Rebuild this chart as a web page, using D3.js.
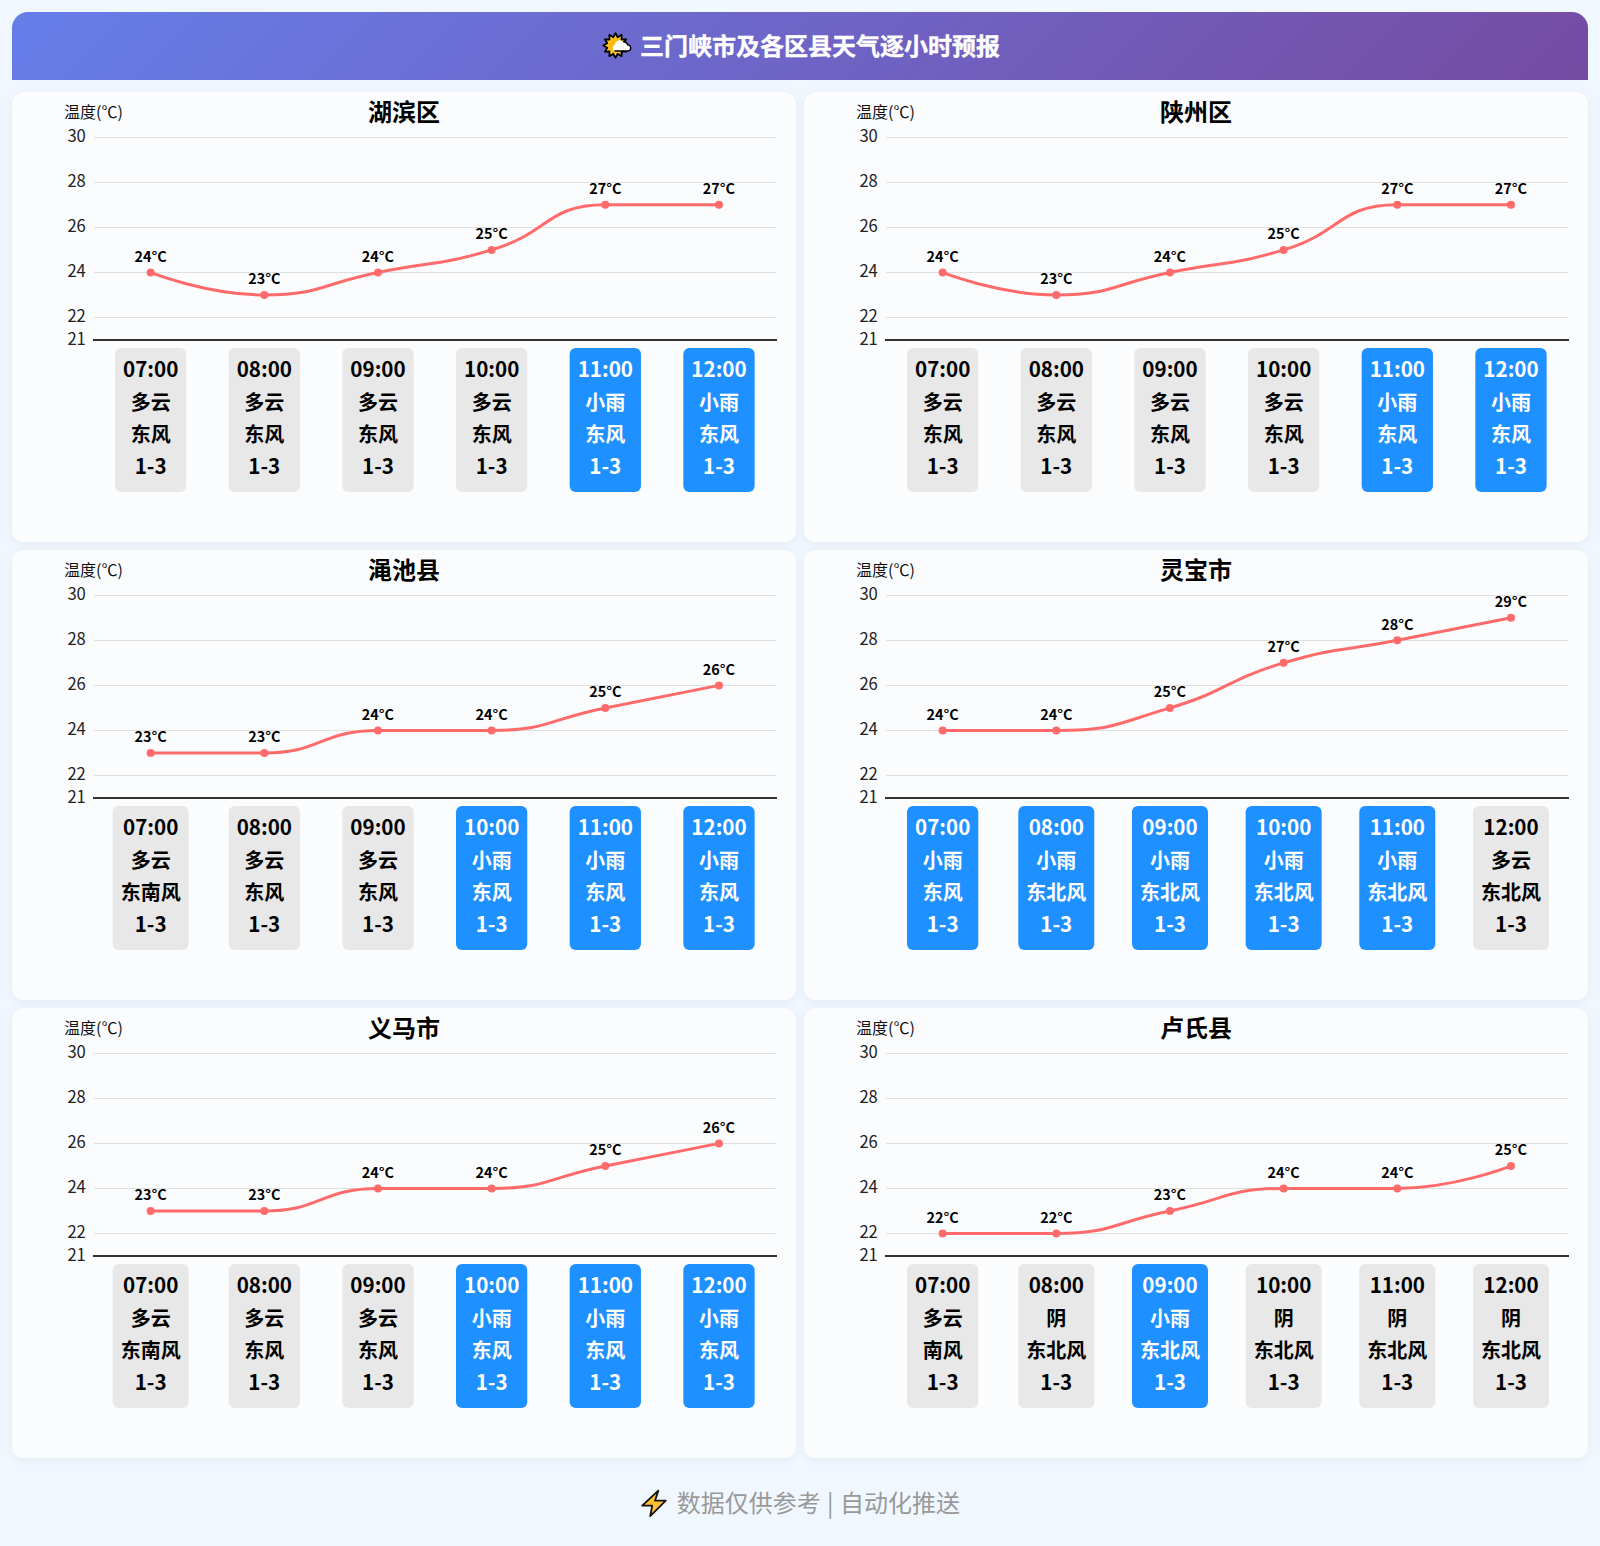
<!DOCTYPE html>
<html lang="zh">
<head>
<meta charset="utf-8">
<script src="https://cdn.jsdelivr.net/npm/d3@7"></script>
<style>
html,body{margin:0;padding:0;background:#f0f7ff;}
svg{display:block;}
text{font-family:"Noto Sans CJK SC","Noto Sans",sans-serif;}
</style>
</head>
<body>
<div id="chart"></div>
<script>
const pageTitle = "三门峡市及各区县天气逐小时预报";
const footerText = "数据仅供参考 | 自动化推送";
const axisName = "温度(℃)";
const hours = ["07:00","08:00","09:00","10:00","11:00","12:00"];
const yTicks = [21,22,24,26,28,30];
const districts = ["湖滨区","陕州区","渑池县","灵宝市","义马市","卢氏县"];
const tempHubin = [24,23,24,25,27,27];
const tempShanzhou = [24,23,24,25,27,27];
const tempMianchi = [23,23,24,24,25,26];
const tempLingbao = [24,24,25,27,28,29];
const tempYima = [23,23,24,24,25,26];
const tempLushi = [22,22,23,24,24,25];
const weatherHubin = ["多云","多云","多云","多云","小雨","小雨"];
const weatherShanzhou = ["多云","多云","多云","多云","小雨","小雨"];
const weatherMianchi = ["多云","多云","多云","小雨","小雨","小雨"];
const weatherLingbao = ["小雨","小雨","小雨","小雨","小雨","多云"];
const weatherYima = ["多云","多云","多云","小雨","小雨","小雨"];
const weatherLushi = ["多云","阴","小雨","阴","阴","阴"];
const windHubin = ["东风","东风","东风","东风","东风","东风"];
const windShanzhou = ["东风","东风","东风","东风","东风","东风"];
const windMianchi = ["东南风","东风","东风","东风","东风","东风"];
const windLingbao = ["东风","东北风","东北风","东北风","东北风","东北风"];
const windYima = ["东南风","东风","东风","东风","东风","东风"];
const windLushi = ["南风","东北风","东北风","东北风","东北风","东北风"];
const windLevel = "1-3";
const temps = [tempHubin,tempShanzhou,tempMianchi,tempLingbao,tempYima,tempLushi];
const weathers = [weatherHubin,weatherShanzhou,weatherMianchi,weatherLingbao,weatherYima,weatherLushi];
const winds = [windHubin,windShanzhou,windMianchi,windLingbao,windYima,windLushi];

// d3 curve factory: Catmull-style tangents, clamped to each neighbour's extent
function curveClampedSmooth(context){
  const smooth = 0.5;
  let pts;
  return {
    lineStart(){ pts = []; },
    point(x,y){ pts.push([+x,+y]); },
    lineEnd(){
      const n = pts.length;
      if(!n) return;
      context.moveTo(pts[0][0],pts[0][1]);
      const clamp = (v,a,b)=>Math.max(Math.min(a,b),Math.min(Math.max(a,b),v));
      let cp0 = pts[0];
      for(let i=1;i<n;i++){
        const p = pts[i];
        if(i===n-1){ context.bezierCurveTo(cp0[0],cp0[1],p[0],p[1],p[0],p[1]); break; }
        const a = pts[i-1], b = pts[i+1];
        const lp = Math.hypot(p[0]-a[0],p[1]-a[1]), ln = Math.hypot(b[0]-p[0],b[1]-p[1]);
        const r = ln/(ln+lp);
        let nx = clamp(p[0]+(b[0]-a[0])*smooth*r,p[0],b[0]);
        let ny = clamp(p[1]+(b[1]-a[1])*smooth*r,p[1],b[1]);
        let c1x = clamp(p[0]-(nx-p[0])*lp/ln,a[0],p[0]);
        let c1y = clamp(p[1]-(ny-p[1])*lp/ln,a[1],p[1]);
        nx = p[0]+(p[0]-c1x)*ln/lp;
        ny = p[1]+(p[1]-c1y)*ln/lp;
        context.bezierCurveTo(cp0[0],cp0[1],c1x,c1y,p[0],p[1]);
        cp0 = [nx,ny];
      }
    }
  };
}

const W = 1600, H = 1546;
const svg = d3.select("#chart").append("svg").attr("width",W).attr("height",H);
const defs = svg.append("defs");
const grad = defs.append("linearGradient").attr("id","hdr").attr("gradientUnits","userSpaceOnUse")
  .attr("x1",389).attr("y1",-365).attr("x2",1211).attr("y2",457);
grad.append("stop").attr("offset",0).attr("stop-color","#667eea");
grad.append("stop").attr("offset",1).attr("stop-color","#764ba2");
const sh = defs.append("filter").attr("id","sh").attr("x","-5%").attr("y","-5%").attr("width","110%").attr("height","110%");
sh.append("feDropShadow").attr("dx",0).attr("dy",2).attr("stdDeviation",4).attr("flood-color","#000").attr("flood-opacity",0.05);
const sunG = defs.append("radialGradient").attr("id","sun");
sunG.append("stop").attr("offset",0.35).attr("stop-color","#ffb300");
sunG.append("stop").attr("offset",1).attr("stop-color","#ffe04a");

svg.append("rect").attr("width",W).attr("height",H).attr("fill","#f0f7ff");
// header
svg.append("path").attr("d","M12,80V28A16,16 0 0 1 28,12H1572A16,16 0 0 1 1588,28V80Z").attr("fill","url(#hdr)");
svg.append("text").attr("x",640).attr("y",46.6).attr("dy","0.35em").attr("fill","#fff").attr("stroke","#fff").attr("stroke-width",0.35)
  .attr("font-size",24).attr("font-weight",700).text(pageTitle);
// sun-behind-cloud icon
const icon = svg.append("g").attr("transform","translate(615.5,45.5)");
icon.append("path").attr("d",d3.range(24).map(i=>{
    const r = i%2 ? 8.5 : 12.3, a = i*Math.PI/12;
    return (i?"L":"M")+(r*Math.cos(a)).toFixed(2)+","+(r*Math.sin(a)).toFixed(2);
  }).join("")+"Z").attr("fill","url(#sun)").attr("stroke","#000").attr("stroke-width",1.8).attr("stroke-linejoin","round");
icon.append("path").attr("d","M-1,5.5a3.4,3.4 0 0 1 0,-6.2a5,5 0 0 1 8.5,-3a4.2,4.2 0 0 1 4.6,3a3.2,3.2 0 0 1 1,6.2Z")
  .attr("fill","#fff");
icon.append("path").attr("d","M7.5,-3.7a4.2,4.2 0 0 1 4.6,3a3.2,3.2 0 0 1 1,6.2H-1").attr("fill","none").attr("stroke","#000").attr("stroke-width",1.3);

const cardW = 784, cardH = 450, cols = [12,804], rows = [92,550,1008];
const plotL = 81.8, plotW = 682, plotT = 45.3, plotH = 202.7;

districts.forEach((name,i)=>{
  const cx = cols[i%2], cy = rows[Math.floor(i/2)];
  const g = svg.append("g").attr("transform",`translate(${cx},${cy})`);
  g.append("rect").attr("width",cardW).attr("height",cardH).attr("rx",12).attr("fill","#fbfcfe").attr("filter","url(#sh)");
  g.append("text").attr("x",cardW/2).attr("y",21).attr("dy","0.35em").attr("text-anchor","middle")
    .attr("font-size",24).attr("font-weight",700).attr("fill","#000").text(name);
  g.append("text").attr("x",52).attr("y",20.5).attr("dy","0.35em").attr("font-size",16).attr("fill","#111").text(axisName);

  const x = d3.scaleBand().domain(hours).range([plotL,plotL+plotW]);
  const y = d3.scaleLinear().domain([21,30]).range([plotT+plotH,plotT]);
  const px = h => x(h)+x.bandwidth()/2;

  const ax = g.append("g").attr("transform",`translate(${plotL},0)`)
    .call(d3.axisLeft(y).tickValues(yTicks).tickFormat(d3.format("d")).tickSize(-plotW).tickPadding(8));
  ax.select(".domain").remove();
  ax.selectAll(".tick").attr("transform",d=>`translate(0,${Math.round(y(d))+0.5})`);
  ax.selectAll(".tick line").attr("stroke",d=>d===21?"none":"#e0e0e0").attr("shape-rendering","crispEdges");
  ax.selectAll(".tick text").attr("font-size",16.6).attr("fill","#222").attr("dy","0.27em")
    .style("font-family",'"Noto Sans CJK SC","Noto Sans",sans-serif');
  g.append("line").attr("x1",plotL-0.8).attr("x2",plotL+plotW+1).attr("y1",Math.round(y(21))).attr("y2",Math.round(y(21)))
    .attr("stroke","#333").attr("stroke-width",2).attr("shape-rendering","crispEdges");

  const data = hours.map((h,k)=>({h,t:temps[i][k],w:weathers[i][k],wd:winds[i][k]}));
  const line = d3.line().x(d=>px(d.h)).y(d=>y(d.t)).curve(curveClampedSmooth);
  g.append("path").datum(data).attr("d",line).attr("fill","none").attr("stroke","#ff6b6b").attr("stroke-width",3);
  g.selectAll(".pt").data(data).join("circle").attr("class","pt").attr("cx",d=>px(d.h)).attr("cy",d=>y(d.t)).attr("r",4).attr("fill","#ff6b6b");
  g.selectAll(".lbl").data(data).join("text").attr("class","lbl").attr("x",d=>px(d.h)).attr("y",d=>y(d.t)-15.8)
    .attr("dy","0.35em").attr("text-anchor","middle").attr("font-size",14.4).attr("font-weight",700).attr("fill","#000").text(d=>d.t+"°C");

  const boxTop = Math.round(y(21))+8, lineH = 32;
  const bx = g.selectAll(".box").data(data).join("g").attr("class","box").attr("transform",d=>`translate(${px(d.h)},${boxTop})`);
  const isRain = d=>d.w.includes("雨");
  bx.append("rect").attr("y",0).attr("height",144).attr("rx",6).attr("fill",d=>isRain(d)?"#1e90ff":"#e8e8e8");
  const lines = d=>[d.h,d.w,d.wd,windLevel];
  bx.selectAll("text").data(d=>lines(d).map((s,k)=>({s,k,rain:isRain(d)}))).join("text")
    .attr("x",0).attr("y",d=>22+d.k*lineH+(d.k?0.7:0)).attr("dy","0.35em").attr("text-anchor","middle")
    .attr("font-size",d=>(d.k===0||d.k===3)?20.6:20).attr("font-weight",700).attr("fill",d=>d.rain?"#fff":"#000").text(d=>d.s);
  bx.each(function(){
    const b = d3.select(this);
    let m = 0;
    b.selectAll("text").each(function(){ m = Math.max(m,this.getComputedTextLength()); });
    b.select("rect").attr("x",-(m+16)/2).attr("width",m+16);
  });
});

// footer
const bolt = svg.append("g").attr("transform","translate(654,1503)");
bolt.append("path").attr("d","M4.3,-12.3L-11.8,2.7H-1.8L-3.8,13.2L11.8,-2.3H1L4.3,-12.3Z").attr("fill","#ffc033").attr("stroke","#111").attr("stroke-width",1.8).attr("stroke-linejoin","round");
svg.append("text").attr("x",676.7).attr("y",1504).attr("dy","0.35em").attr("font-size",24).attr("word-spacing",1).attr("fill","#999").text(footerText);
</script>
</body>
</html>
